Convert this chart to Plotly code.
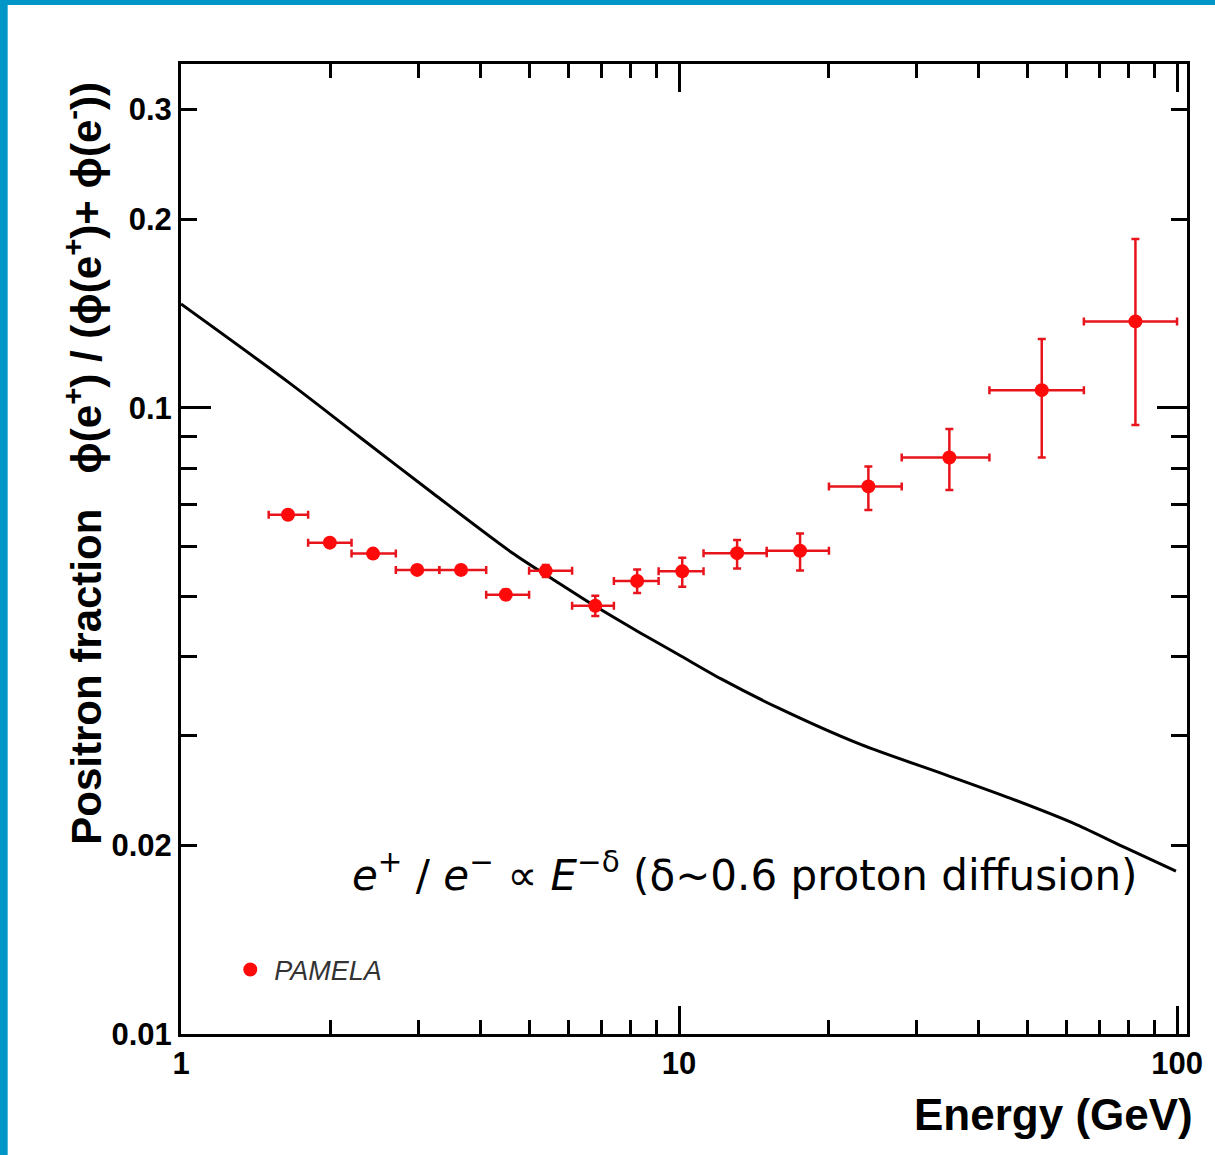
import plotly.graph_objects as go

# PAMELA positron fraction: bin centres, bin edges and measured values
energy = [1.64, 1.99, 2.43, 2.98, 3.65, 4.49, 5.40, 6.79, 8.24, 10.15,
          13.08, 17.5, 24.0, 34.9, 53.5, 82.5]
bin_low = [1.5, 1.8, 2.2, 2.7, 3.3, 4.1, 5.0, 6.1, 7.4, 9.1,
           11.2, 15.0, 20.0, 28.0, 42.0, 65.0]
bin_high = [1.8, 2.2, 2.7, 3.3, 4.1, 5.0, 6.1, 7.4, 9.1, 11.2,
            15.0, 20.0, 28.0, 42.0, 65.0, 100.0]
fraction = [0.0675, 0.0609, 0.0585, 0.0551, 0.0551, 0.0503, 0.0549, 0.0483,
            0.0529, 0.0548, 0.0586, 0.0591, 0.0749, 0.0833, 0.1067, 0.1374]
err_up = [0.0008, 0.0008, 0.0008, 0.0008, 0.0009, 0.0009, 0.0012, 0.0018,
          0.0023, 0.0028, 0.0029, 0.0039, 0.0057, 0.0092, 0.0221, 0.0486]
err_down = [0.0008, 0.0008, 0.0008, 0.0008, 0.0009, 0.0009, 0.0012, 0.0018,
            0.0023, 0.0030, 0.0032, 0.0041, 0.0062, 0.0094, 0.0234, 0.0435]

# Secondary-production expectation (pure diffusion model)
model_energy = [1.0, 1.65, 2.28, 3.2, 4.62, 5.65, 6.82, 8.28, 9.95, 12.15,
                15.78, 23.15, 34.0, 46.2, 62.8, 79.1, 99.5]
model_fraction = [0.1465, 0.1096, 0.0899, 0.0731, 0.0587, 0.0529, 0.0481,
                  0.0439, 0.0404, 0.0369, 0.0332, 0.0290, 0.0260, 0.0238,
                  0.0216, 0.0198, 0.0182]

x_major = [1, 10, 100]
x_major_text = ["1", "10", "100"]
x_minor = [2, 3, 4, 5, 6, 7, 8, 9, 20, 30, 40, 50, 60, 70, 80, 90]
y_labeled = [0.01, 0.02, 0.1, 0.2, 0.3]
y_labeled_text = ["0.01", "0.02", "0.1", "0.2", "0.3"]
y_minor = [0.03, 0.04, 0.05, 0.06, 0.07, 0.08, 0.09]
y_long = [0.1]

xerr_plus = [h - e for h, e in zip(bin_high, energy)]
xerr_minus = [e - l for e, l in zip(energy, bin_low)]

RED = "#ff0a0a"
BAR = "#e8141c"
FONT = "Liberation Sans"

fig = go.Figure()

fig.add_trace(go.Scatter(
    x=model_energy, y=model_fraction, mode="lines",
    line=dict(color="black", width=3, shape="spline", smoothing=0.8),
    showlegend=False, hoverinfo="skip",
))

fig.add_trace(go.Scatter(
    x=energy, y=fraction, mode="markers", name="PAMELA",
    marker=dict(color=RED, size=14, line=dict(width=0)),
    error_x=dict(type="data", symmetric=False, array=xerr_plus,
                 arrayminus=xerr_minus, color=BAR, thickness=2.5, width=4),
    error_y=dict(type="data", symmetric=False, array=err_up,
                 arrayminus=err_down, color=BAR, thickness=2.5, width=4),
))

# helper trace to carry the long tick at 0.1
fig.add_trace(go.Scatter(x=[1], y=[0.1], yaxis="y2", mode="markers",
                         marker=dict(opacity=0), showlegend=False,
                         hoverinfo="skip"))

tickfont = dict(family=FONT, size=31, color="black", weight="bold")

fig.update_layout(
    width=1215, height=1155,
    margin=dict(l=181, r=24, t=64, b=121),
    paper_bgcolor="white", plot_bgcolor="white",
    xaxis=dict(
        type="log", range=[0, 2.02],
        tickmode="array", tickvals=x_major, ticktext=x_major_text,
        ticks="inside", ticklen=28, tickwidth=3, tickcolor="black",
        showline=True, linewidth=3, linecolor="black", mirror="ticks",
        showgrid=False, zeroline=False, tickfont=tickfont,
        minor=dict(tickmode="array", tickvals=x_minor, ticks="inside",
                   ticklen=14, tickwidth=3, tickcolor="black", showgrid=False),
    ),
    yaxis=dict(
        type="log", range=[-2, -0.451],
        tickmode="array", tickvals=y_labeled, ticktext=y_labeled_text,
        ticks="inside", ticklen=16, tickwidth=3, tickcolor="black",
        showline=True, linewidth=3, linecolor="black", mirror="ticks",
        showgrid=False, zeroline=False, tickfont=tickfont,
        minor=dict(tickmode="array", tickvals=y_minor, ticks="inside",
                   ticklen=16, tickwidth=3, tickcolor="black", showgrid=False),
    ),
    yaxis2=dict(
        type="log", range=[-2, -0.451], overlaying="y", side="left",
        tickmode="array", tickvals=y_long, ticks="inside", ticklen=30,
        tickwidth=3, tickcolor="black", mirror="ticks", showline=False,
        showticklabels=False, showgrid=False, zeroline=False,
    ),
    legend=dict(x=0.045, y=0.066, xanchor="left", yanchor="middle",
                itemwidth=38, bgcolor="rgba(0,0,0,0)",
                font=dict(family=FONT, size=27, color="#333333", style="italic")),
    showlegend=True,
)

# axis titles
fig.add_annotation(
    text="Energy (GeV)", xref="paper", yref="paper", x=1.008, y=-0.056,
    xanchor="right", yanchor="top", showarrow=False,
    font=dict(family=FONT, size=44, color="black", weight="bold"),
)
fig.add_annotation(
    text="Positron fraction\u00a0\u00a0\u00a0ϕ(e<sup>+</sup>) / (ϕ(e<sup>+</sup>)+ ϕ(e<sup>-</sup>))",
    xref="paper", yref="paper", x=-0.097, y=0.193, textangle=-90,
    xanchor="center", yanchor="bottom", showarrow=False,
    font=dict(family=FONT, size=42, color="black", weight="bold"),
)

# model label
fig.add_annotation(
    text="<i>e</i><sup>+</sup> / <i>e</i><sup>−</sup> ∝ <i>E</i><sup>−δ</sup> (δ~0.6 proton diffusion)",
    xref="paper", yref="paper", x=0.56, y=0.167,
    xanchor="center", yanchor="middle", showarrow=False,
    font=dict(family="DejaVu Sans", size=42, color="black"),
)

# slide frame bands
fig.add_shape(type="rect", xref="paper", yref="paper",
              x0=-0.18, x1=-0.1723, y0=-0.13, y1=1.07,
              fillcolor="#0096c8", line=dict(width=0), layer="above")
fig.add_shape(type="rect", xref="paper", yref="paper",
              x0=-0.18, x1=1.03, y0=1.0608, y1=1.07,
              fillcolor="#0096c8", line=dict(width=0), layer="above")

fig.write_html("out.html")
